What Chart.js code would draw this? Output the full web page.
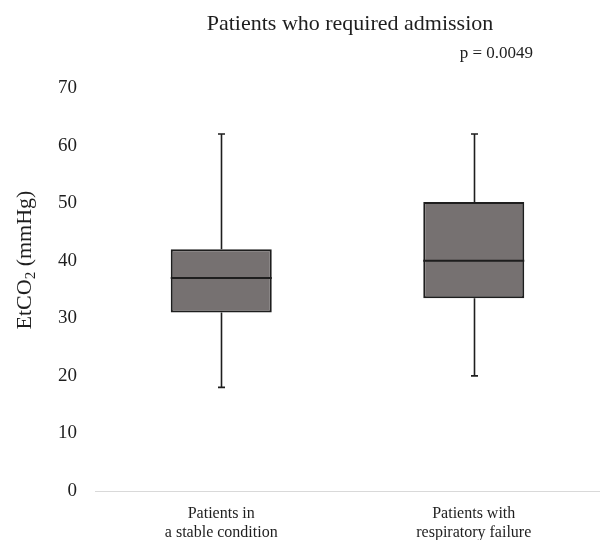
<!DOCTYPE html>
<html>
<head>
<meta charset="utf-8">
<script src="https://cdn.jsdelivr.net/npm/chart.js@4/dist/chart.umd.min.js"></script>
<style>
html,body{margin:0;padding:0;background:#fff;}
#wrap{width:600px;height:540px;position:relative;}
</style>
</head>
<body>
<div id="wrap"><canvas id="c" width="600" height="540"></canvas></div>
<script>
const categories = [["Patients in","a stable condition"],["Patients with","respiratory failure"]];
const whiskerMin = [18, 20];
const q1 = [31, 33.5];
const median = [37, 40];
const q3 = [42, 50.2];
const whiskerMax = [62, 62];
const yTicks = [0,10,20,30,40,50,60,70];
const titleText = "Patients who required admission";
const pText = "p = 0.0049";

const SERIF = "'Liberation Serif','Times New Roman',serif";
const INK = '#1e1e1e';

const boxPlugin = {
  id: 'boxExtras',
  beforeDatasetsDraw(chart) {
    const ctx = chart.ctx, x = chart.scales.x, y = chart.scales.y;
    ctx.save();
    ctx.strokeStyle = INK; ctx.lineWidth = 1.6;
    categories.forEach((c, i) => {
      const cx = Math.round(x.getPixelForValue(i)) + 0.5;
      ctx.beginPath();
      ctx.moveTo(cx, y.getPixelForValue(whiskerMax[i]));
      ctx.lineTo(cx, y.getPixelForValue(q3[i]));
      ctx.moveTo(cx, y.getPixelForValue(q1[i]));
      ctx.lineTo(cx, y.getPixelForValue(whiskerMin[i]));
      ctx.moveTo(cx - 3.5, y.getPixelForValue(whiskerMax[i]));
      ctx.lineTo(cx + 3.5, y.getPixelForValue(whiskerMax[i]));
      ctx.moveTo(cx - 3.5, y.getPixelForValue(whiskerMin[i]));
      ctx.lineTo(cx + 3.5, y.getPixelForValue(whiskerMin[i]));
      ctx.stroke();
    });
    ctx.restore();
  },
  afterDatasetsDraw(chart) {
    const ctx = chart.ctx, y = chart.scales.y;
    const meta = chart.getDatasetMeta(0);
    ctx.save();
    ctx.strokeStyle = INK; ctx.lineWidth = 2;
    meta.data.forEach((bar, i) => {
      const half = bar.width / 2;
      const my = y.getPixelForValue(median[i]);
      ctx.beginPath();
      ctx.moveTo(bar.x - half, my);
      ctx.lineTo(bar.x + half, my);
      ctx.stroke();
    });
    ctx.restore();
  },
  afterDraw(chart) {
    const ctx = chart.ctx;
    ctx.save();
    ctx.fillStyle = INK;
    ctx.textBaseline = 'alphabetic';
    ctx.font = "22px " + SERIF;
    ctx.textAlign = 'center';
    ctx.fillText(titleText, 350, 30);
    ctx.font = "17px " + SERIF;
    ctx.textAlign = 'right';
    ctx.fillText(pText, 533, 58);
    // y axis title with subscript
    ctx.translate(31, 260);
    ctx.rotate(-Math.PI / 2);
    const big = "22px " + SERIF, small = "15px " + SERIF;
    ctx.font = big; const w1 = ctx.measureText("EtCO").width;
    const w3 = ctx.measureText(" (mmHg)").width;
    ctx.font = small; const w2 = ctx.measureText("2").width;
    let sx = -(w1 + w2 + w3) / 2;
    ctx.textAlign = 'left';
    ctx.font = big; ctx.fillText("EtCO", sx, 0); sx += w1;
    ctx.font = small; ctx.fillText("2", sx, 4); sx += w2;
    ctx.font = big; ctx.fillText(" (mmHg)", sx, 0);
    ctx.restore();
  }
};

new Chart(document.getElementById('c'), {
  type: 'bar',
  data: {
    labels: categories,
    datasets: [{
      data: q1.map((v, i) => [v, q3[i]]),
      backgroundColor: '#767171',
      borderColor: INK,
      borderWidth: 2,
      borderSkipped: false,
      categoryPercentage: 1,
      barPercentage: 0.4
    }]
  },
  options: {
    responsive: false,
    animation: false,
    layout: { padding: { top: 88, right: 0, left: 0, bottom: 0 } },
    plugins: { legend: { display: false }, tooltip: { enabled: false } },
    scales: {
      x: {
        grid: { display: false, drawTicks: false },
        border: { display: true, color: '#d9d9d9', width: 1 },
        ticks: { color: INK, font: { family: SERIF, size: 16, lineHeight: 1.15 }, padding: 14, maxRotation: 0 },
        afterFit(s) { s.height = 49; }
      },
      y: {
        min: 0, max: 70,
        afterBuildTicks(s) { s.ticks = yTicks.map(v => ({ value: v })); },
        grid: { display: false, drawTicks: false },
        border: { display: false },
        ticks: { color: INK, font: { family: SERIF, size: 19 }, padding: 18 },
        afterFit(s) { s.width = 95; }
      }
    }
  },
  plugins: [boxPlugin]
});
</script>
</body>
</html>
